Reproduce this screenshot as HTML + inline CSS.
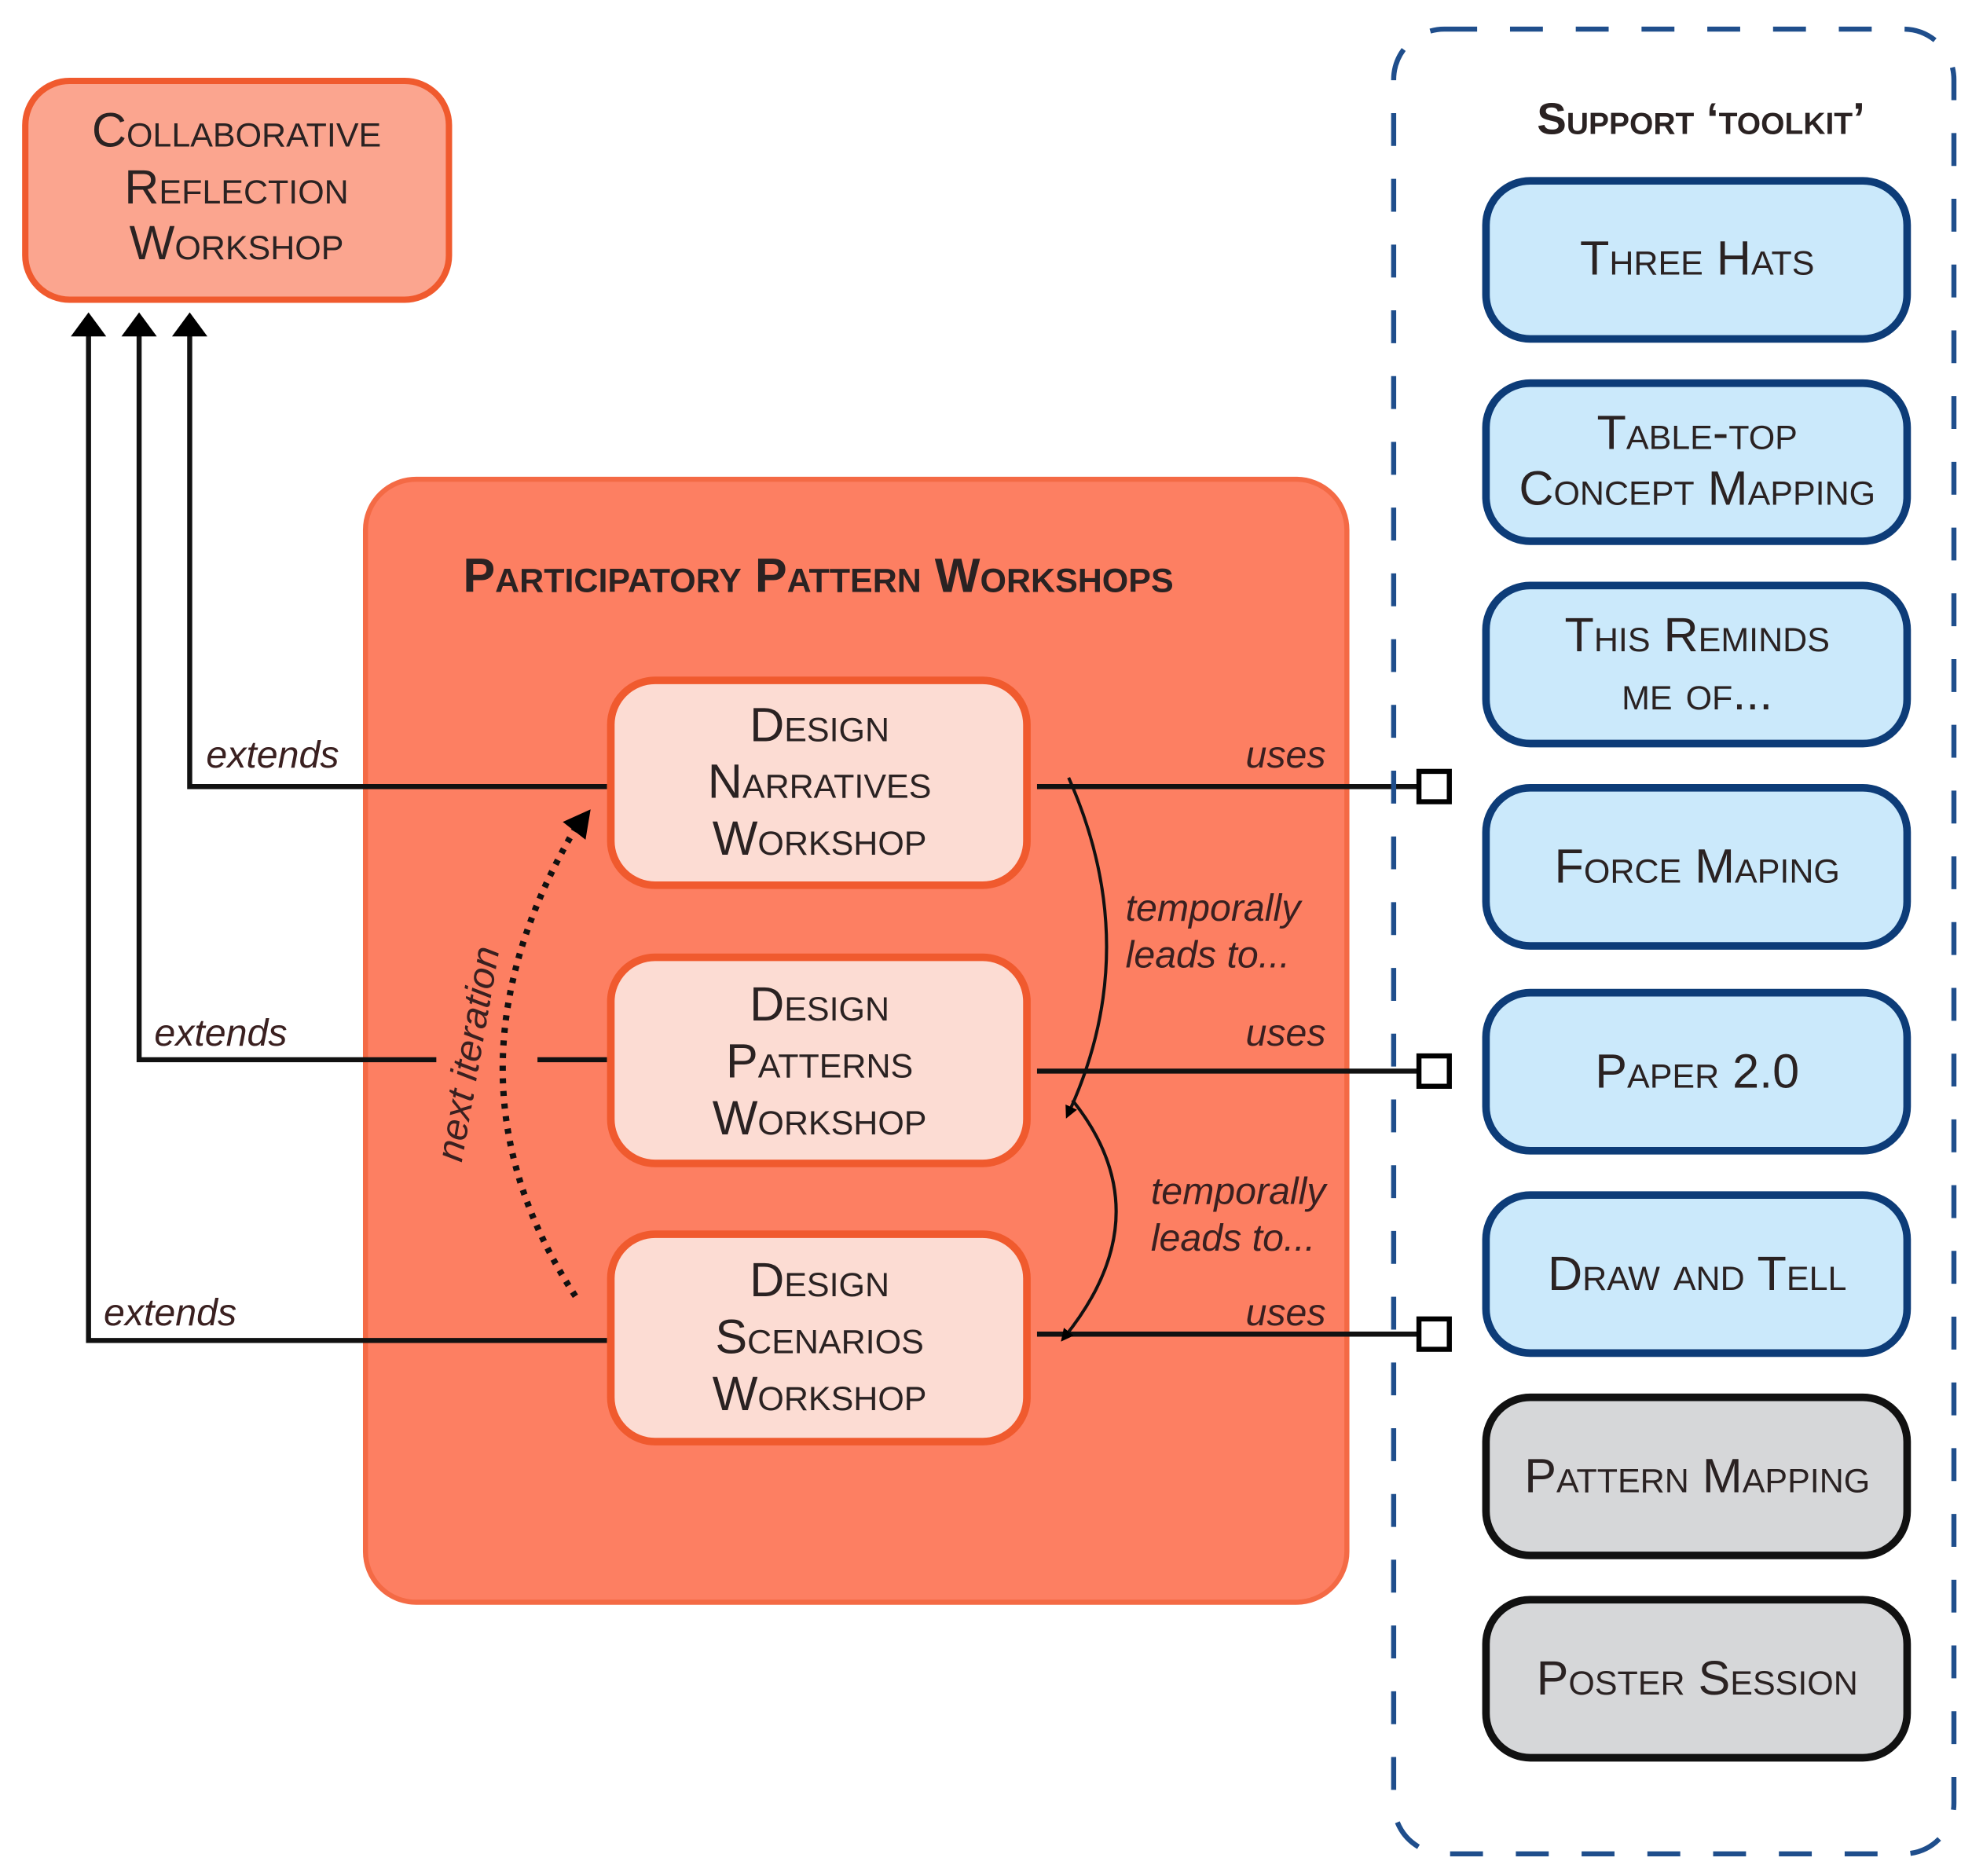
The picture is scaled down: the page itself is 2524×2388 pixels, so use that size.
<!DOCTYPE html>
<html><head><meta charset="utf-8"><style>
html,body{margin:0;padding:0;background:#fff}
svg{display:block}
.sc{font-family:"Liberation Sans",sans-serif;font-variant:small-caps;fill:#2a2222;text-anchor:middle}
.it{font-family:"Liberation Sans",sans-serif;font-style:italic;fill:#3a2020;font-size:30px}
</style></head><body>
<svg width="2524" height="2388" viewBox="0 0 1568 1483.5" xmlns="http://www.w3.org/2000/svg">
<defs>
<marker id="ah" markerWidth="10" markerHeight="10" refX="5" refY="5" orient="auto" markerUnits="userSpaceOnUse" viewBox="0 0 10 10"><path d="M0,0 L10,5 L0,10 z" fill="#000"/></marker>
</defs>
<rect width="1568" height="1484" fill="#fff"/>
<rect x="20" y="64" width="335" height="173" rx="35" fill="#fba58f" stroke="#f05a2e" stroke-width="5"/>
<text class="sc" font-size="38" x="187" y="116">Collaborative</text>
<text class="sc" font-size="38" x="187" y="161">Reflection</text>
<text class="sc" font-size="38" x="187" y="205">Workshop</text>
<rect x="289" y="379" width="776" height="888" rx="40" fill="#fd7f62" stroke="#f46a45" stroke-width="4"/>
<text class="sc" font-size="38" font-weight="bold" x="647" y="468">Participatory Pattern Workshops</text>
<g stroke="#111" stroke-width="4" fill="none">
<path d="M150,265 V622 H480"/>
<path d="M110,265 V838 H345"/>
<path d="M425,838 H480"/>
<path d="M70,265 V1060 H480"/>
</g>
<g fill="#000">
<path d="M136,266 L150,247 L164,266 z"/>
<path d="M96,266 L110,247 L124,266 z"/>
<path d="M56,266 L70,247 L84,266 z"/>
</g>
<text class="it" x="163" y="607">extends</text>
<text class="it" x="122" y="827">extends</text>
<text class="it" x="82" y="1048">extends</text>
<g fill="#fcdcd3" stroke="#f05a2e" stroke-width="6">
<rect x="483" y="538" width="329" height="162" rx="35"/>
<rect x="483" y="757" width="329" height="163" rx="35"/>
<rect x="483" y="976" width="329" height="164" rx="35"/>
</g>
<g font-size="38">
<text class="sc" x="648" y="586">Design</text>
<text class="sc" x="648" y="631">Narratives</text>
<text class="sc" x="648" y="676">Workshop</text>
<text class="sc" x="648" y="807">Design</text>
<text class="sc" x="648" y="852">Patterns</text>
<text class="sc" x="648" y="897">Workshop</text>
<text class="sc" x="648" y="1025">Design</text>
<text class="sc" x="648" y="1070">Scenarios</text>
<text class="sc" x="648" y="1115">Workshop</text>
</g>
<g stroke="#111" stroke-width="4" fill="none">
<line x1="820" y1="622" x2="1122" y2="622"/>
<line x1="820" y1="847" x2="1122" y2="847"/>
<line x1="820" y1="1055" x2="1122" y2="1055"/>
</g>
<g fill="#fff" stroke="#000" stroke-width="4">
<rect x="1122" y="610" width="24" height="24"/>
<rect x="1122" y="835" width="24" height="24"/>
<rect x="1122" y="1043" width="24" height="24"/>
</g>
<text class="it" x="985" y="607">uses</text>
<text class="it" x="985" y="827">uses</text>
<text class="it" x="985" y="1048">uses</text>
<g stroke="#111" stroke-width="2.5" fill="none">
<path d="M845,615 Q905,750 845,880" marker-end="url(#ah)"/>
<path d="M848,870 Q920,960 842,1057" marker-end="url(#ah)"/>
</g>
<text class="it" x="890" y="728">temporally</text>
<text class="it" x="890" y="765">leads to...</text>
<text class="it" x="910" y="952">temporally</text>
<text class="it" x="910" y="989">leads to...</text>
<path d="M455,1025 Q340,850 455,655" stroke="#111" stroke-width="5" stroke-dasharray="4,6" fill="none"/>
<path d="M445,650 L467,640 L463,664 z" fill="#000"/>
<text class="it" transform="translate(380,835) rotate(-80)" text-anchor="middle">next  iteration</text>
<rect x="1102" y="23" width="443" height="1443" rx="40" fill="none" stroke="#1f4e8c" stroke-width="4" stroke-dasharray="26,26"/>
<text class="sc" font-size="35" font-weight="bold" x="1345" y="106">Support ‘toolkit’</text>
<g fill="#cbe9fb" stroke="#0d3c78" stroke-width="6">
<rect x="1175" y="143" width="333" height="125" rx="35"/>
<rect x="1175" y="303" width="333" height="125" rx="35"/>
<rect x="1175" y="463" width="333" height="125" rx="35"/>
<rect x="1175" y="623" width="333" height="125" rx="35"/>
<rect x="1175" y="785" width="333" height="125" rx="35"/>
<rect x="1175" y="945" width="333" height="125" rx="35"/>
</g>
<g fill="#d6d7d9" stroke="#111" stroke-width="6">
<rect x="1175" y="1105" width="333" height="125" rx="35"/>
<rect x="1175" y="1265" width="333" height="125" rx="35"/>
</g>
<g font-size="38">
<text class="sc" x="1342" y="217">Three Hats</text>
<text class="sc" x="1342" y="355">Table-top</text>
<text class="sc" x="1342" y="399">Concept Mapping</text>
<text class="sc" x="1342" y="515">This Reminds</text>
<text class="sc" x="1342" y="561">me of...</text>
<text class="sc" x="1342" y="698">Force Maping</text>
<text class="sc" x="1342" y="860">Paper 2.0</text>
<text class="sc" x="1342" y="1020">Draw and Tell</text>
<text class="sc" x="1342" y="1180">Pattern Mapping</text>
<text class="sc" x="1342" y="1340">Poster Session</text>
</g>
</svg>
</body></html>
